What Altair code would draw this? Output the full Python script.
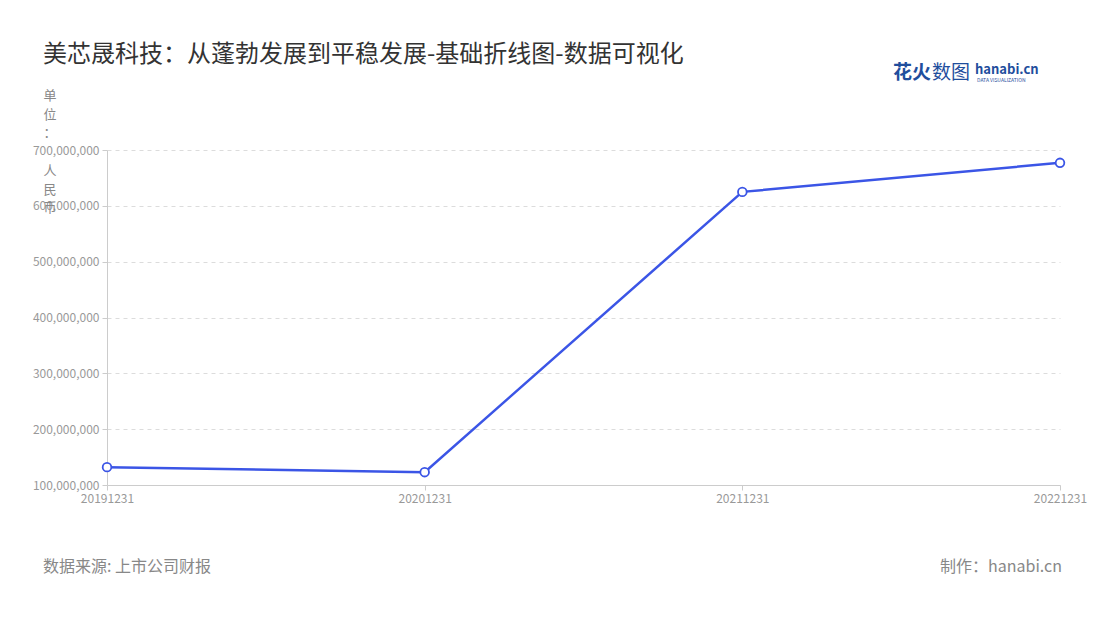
import altair as alt
import pandas as pd

dates = ["20191231", "20201231", "20211231", "20221231"]
values = [132000000, 123000000, 625000000, 677000000]
y_ticks = [100000000, 200000000, 300000000, 400000000, 500000000, 600000000, 700000000]

title_text = "美芯晟科技：从蓬勃发展到平稳发展-基础折线图-数据可视化"
source_text = "数据来源: 上市公司财报"
maker_text = "制作：hanabi.cn"
unit_top = "单\n位\n："
unit_bottom = "人\n民\n币"

FONT = "Noto Sans CJK SC"
BLUE = "#3B55E6"

df = pd.DataFrame({"date": dates, "value": values})

base = alt.Chart(df).encode(
    x=alt.X("date:O", scale=alt.Scale(type="point", padding=0),
            axis=alt.Axis(title=None, labelAngle=0, labelColor="#999", labelFontSize=12,
                          labelFont=FONT, domainColor="#ccc", tickColor="#ccc", tickSize=5,
                          labelPadding=3, grid=False)),
    y=alt.Y("value:Q", scale=alt.Scale(domain=[100000000, 700000000], nice=False, zero=False),
            axis=alt.Axis(values=y_ticks, format=",d", labelColor="#999", labelFontSize=12,
                          labelFont=FONT, domain=True, domainColor="#ccc", tickColor="#ccc",
                          tickSize=5, labelPadding=3, grid=True, gridColor="#dcdcdc",
                          gridDash=[4, 4], title=None)),
)

line = base.mark_line(color=BLUE, strokeWidth=2.5)
points = base.mark_point(filled=True, fill="white", stroke=BLUE, strokeWidth=1.8, size=75, opacity=1)

def txt(text, x, y, size, color, align="left", weight="normal", baseline="middle", lh=None):
    kw = dict(align=align, baseline=baseline, fontSize=size, color=color, font=FONT,
              fontWeight=weight)
    if lh is not None:
        kw.update(lineBreak="\n", lineHeight=lh)
    return alt.Chart(pd.DataFrame({"t": [text]})).mark_text(**kw).encode(
        text="t:N", x=alt.value(x), y=alt.value(y))

title = txt(title_text, -64, -95, 24, "#333")
unit1 = txt(unit_top, -57, -60, 13, "#888", align="center", baseline="top", lh=18.7)
unit2 = txt(unit_bottom, -57, 15, 13, "#888", align="center", baseline="top", lh=18.7)
source = txt(source_text, -64, 417, 16, "#888")
maker = txt(maker_text, 955, 417, 16, "#888", align="right")
logo1 = txt("花火", 786, -77, 19, "#1f4e9d", weight="bold")
logo1b = txt("数图", 825, -77, 19, "#1f4e9d")
logo2 = txt("hanabi.cn", 868, -80, 13, "#1f4e9d", weight="bold")
logo3 = txt("DATA VISUALIZATION", 870, -70, 5, "#1f4e9d")

chart = alt.layer(line, points, title, unit1, unit2, source, maker,
                  logo1, logo1b, logo2, logo3).properties(
    width=953, height=335,
    autosize=alt.AutoSizeParams(type="none"),
    padding={"left": 99, "top": 142, "right": 30, "bottom": 100},
    background="white",
).configure_view(stroke=None)

chart.save("out.html", embed_options={"renderer": "svg", "actions": False})
